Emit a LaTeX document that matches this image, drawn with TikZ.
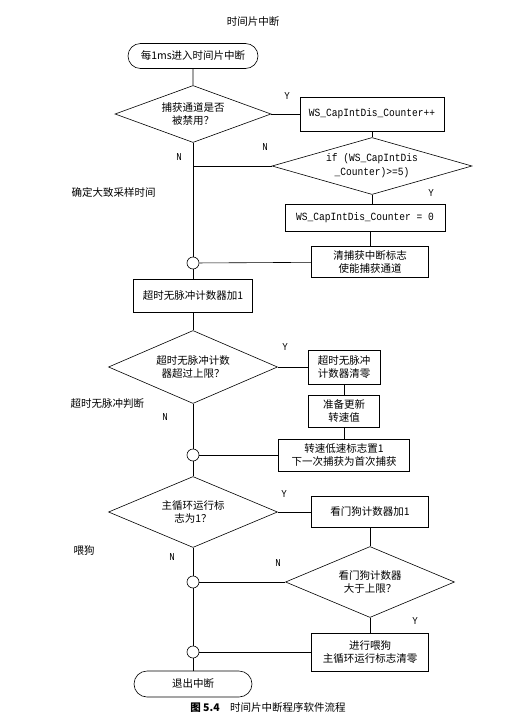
\documentclass[tikz,border=0pt]{standalone}
\usepackage{fontspec}
\setmainfont{Noto Sans CJK SC}
\newfontfamily\codefont{Liberation Mono}[FakeStretch=0.87]
\usetikzlibrary{shapes.geometric,shapes.misc}

\tikzset{
  every node/.style={font=\fontsize{10.5}{13.5}\selectfont, align=center},
  proc/.style={draw, rectangle, inner sep=0pt},
  decide/.style={draw, diamond, inner sep=0pt, aspect=3},
  term/.style={draw, rounded rectangle, inner sep=0pt},
  joint/.style={draw, circle, minimum size=12pt, inner sep=0pt},
  yn/.style={font=\codefont\fontsize{10.5}{13}\selectfont},
  code/.style={font=\codefont\fontsize{11}{14}\selectfont},
  side/.style={anchor=west},
}

\begin{document}
\begin{tikzpicture}[x=1pt, y=-1pt, line width=0.6pt]
    \useasboundingbox (0,0) rectangle (531,720);

    % Title
    \node (title) at (253,22) {时间片中断};

    % Capture channel check
    \node[term, minimum width=130pt, minimum height=25pt] (start) at (193,56) {每1ms进入时间片中断};
    \node[decide, minimum width=156pt, minimum height=57pt] (chkdis) at (193,114) {捕获通道是否\\被禁用？};
    \node[proc, code, minimum width=144pt, minimum height=34pt] (cntinc) at (372,114) {WS\_CapIntDis\_Counter++};
    \node[decide, code, minimum width=200pt, minimum height=57pt] (chkcnt) at (372,166) {if (WS\_CapIntDis\\\_Counter)>=5)};
    \node[proc, code, minimum width=160pt, minimum height=27pt] (cntclr) at (365,218) {WS\_CapIntDis\_Counter = 0};
    \node[proc, minimum width=117pt, minimum height=31pt] (clrflag) at (370,262) {清捕获中断标志\\使能捕获通道};
    \node[joint] (j1) at (193,263) {};

    % Timeout check
    \node[proc, minimum width=119pt, minimum height=33pt] (tmoinc) at (193,296) {超时无脉冲计数器加1};
    \node[decide, minimum width=169pt, minimum height=73pt] (chktmo) at (193,367) {超时无脉冲计数\\器超过上限？};
    \node[proc, minimum width=72pt, minimum height=34pt] (tmoclr) at (344,367) {超时无脉冲\\计数器清零};
    \node[proc, minimum width=71pt, minimum height=32pt] (updspd) at (344,411) {准备更新\\转速值};
    \node[proc, minimum width=131pt, minimum height=32pt] (lowspd) at (344,455) {转速低速标志置1\\下一次捕获为首次捕获};
    \node[joint] (j2) at (193,455) {};

    % Watchdog
    \node[decide, minimum width=169pt, minimum height=71pt] (chkmain) at (193,512) {主循环运行标\\志为1？};
    \node[proc, minimum width=117pt, minimum height=31pt] (wdginc) at (370,512) {看门狗计数器加1};
    \node[decide, minimum width=169pt, minimum height=71pt] (chkwdg) at (370,582) {看门狗计数器\\大于上限？};
    \node[joint] (j3) at (193,582) {};
    \node[proc, minimum width=117pt, minimum height=38pt] (feed) at (370,652) {进行喂狗\\主循环运行标志清零};
    \node[joint] (j4) at (193,652) {};
    \node[term, minimum width=118pt, minimum height=26pt] (stop) at (193,684) {退出中断};

    % Connectors
    \draw (start) -- (chkdis);
    \draw (chkdis) -- (cntinc);
    \draw (cntinc) -- (chkcnt);
    \draw (chkcnt.west) -- (chkcnt.west -| j1);
    \draw (chkdis) -- (j1);
    \draw (chkcnt.south) -- (chkcnt.south |- cntclr.north);
    \draw (cntclr.south -| clrflag) -- (clrflag);
    \draw (clrflag) -- (j1);
    \draw (j1) -- (tmoinc);
    \draw (tmoinc) -- (chktmo);
    \draw (chktmo) -- (tmoclr);
    \draw (tmoclr) -- (updspd);
    \draw (updspd) -- (lowspd);
    \draw (lowspd) -- (j2);
    \draw (chktmo) -- (j2);
    \draw (j2) -- (chkmain);
    \draw (chkmain) -- (wdginc);
    \draw (wdginc) -- (chkwdg);
    \draw (chkwdg) -- (j3);
    \draw (chkmain) -- (j3);
    \draw (j3) -- (j4);
    \draw (chkwdg) -- (feed);
    \draw (feed) -- (j4);
    \draw (j4) -- (stop);

    % Branch labels
    \node[yn] (y1) at (287,96) {Y};
    \node[yn] (n1) at (179,157) {N};
    \node[yn] (n2) at (265,147) {N};
    \node[yn] (y2) at (431,193) {Y};
    \node[yn] (y3) at (285,347) {Y};
    \node[yn] (n3) at (165,417) {N};
    \node[yn] (y4) at (284,494) {Y};
    \node[yn] (n4) at (172,557) {N};
    \node[yn] (n5) at (278,563) {N};
    \node[yn] (y5) at (415,621) {Y};

    % Side notes
    \node[side] (sample) at (68,192) {确定大致采样时间};
    \node[side] (tmonote) at (67,404) {超时无脉冲判断};
    \node[side] (wdgnote) at (70,551) {喂狗};

    % Caption
    \node (caption) at (268,708) {\textbf{图 5.4}\quad 时间片中断程序软件流程};
\end{tikzpicture}
\end{document}
